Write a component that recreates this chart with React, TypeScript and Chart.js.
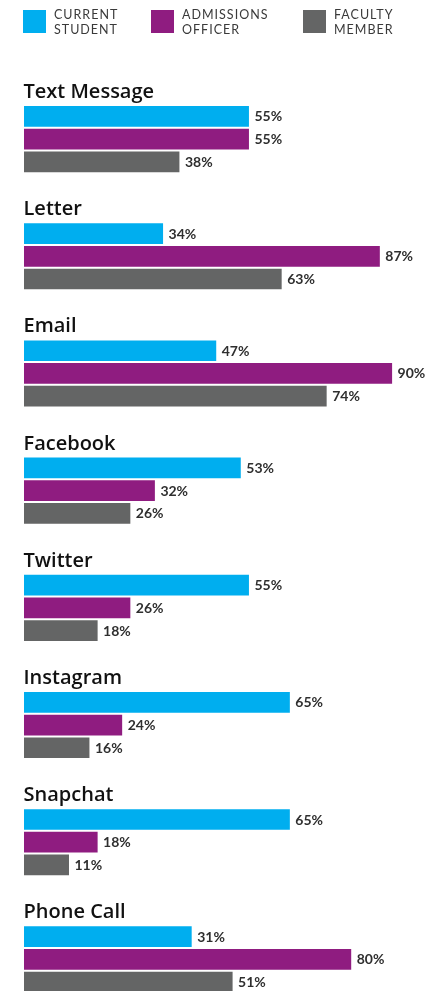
import React, { useEffect, useRef } from "react";
import { Chart, registerables } from "chart.js";

Chart.register(...registerables);

const categories = [
  "Text Message",
  "Letter",
  "Email",
  "Facebook",
  "Twitter",
  "Instagram",
  "Snapchat",
  "Phone Call",
];

// bar lengths as drawn in the picture (percent)
const studentValues = [55, 34, 47, 53, 55, 65, 65, 41];
const officerValues = [55, 87, 90, 32, 26, 24, 18, 80];
const facultyValues = [38, 63, 74, 26, 18, 16, 11, 51];

// value labels as printed in the picture
const studentLabels = ["55%", "34%", "47%", "53%", "55%", "65%", "65%", "31%"];
const officerLabels = ["55%", "87%", "90%", "32%", "26%", "24%", "18%", "80%"];
const facultyLabels = ["38%", "63%", "74%", "26%", "18%", "16%", "11%", "51%"];

const seriesNames = [
  ["CURRENT", "STUDENT"],
  ["ADMISSIONS", "OFFICER"],
  ["FACULTY", "MEMBER"],
];
const seriesColors = ["#00AEEF", "#8F1C80", "#646565"];

const valueLabels = [studentLabels, officerLabels, facultyLabels];

const W = 441;
const H = 1018;

const overlayPlugin = {
  id: "overlay",
  afterDatasetsDraw(chart: any) {
    const ctx = chart.ctx;
    const area = chart.chartArea;
    ctx.save();
    // group titles
    const meta0 = chart.getDatasetMeta(0);
    ctx.fillStyle = "#111111";
    ctx.font = "600 20px 'Open Sans'";
    ctx.textAlign = "left";
    ctx.textBaseline = "alphabetic";
    categories.forEach((c, i) => {
      const el = meta0.data[i];
      const top = el.y - el.height / 2;
      ctx.fillText(c, area.left - 0.5, top - 8);
    });
    // value labels
    ctx.fillStyle = "#2f2f2f";
    ctx.font = "700 14px Lato";
    ctx.textBaseline = "middle";
    chart.data.datasets.forEach((ds: any, d: number) => {
      const meta = chart.getDatasetMeta(d);
      meta.data.forEach((el: any, i: number) => {
        ctx.fillText(valueLabels[d][i], el.x + 5.5, el.y + 0.5);
      });
    });
    // legend
    const swX = [23, 151, 303];
    ctx.font = "400 12.5px Lato";
    (ctx as any).letterSpacing = "1px";
    ctx.textBaseline = "alphabetic";
    seriesNames.forEach((lines, k) => {
      ctx.fillStyle = seriesColors[k];
      ctx.fillRect(swX[k], 10, 23, 23);
      ctx.fillStyle = "#3a3a3a";
      ctx.fillText(lines[0], swX[k] + 31, 18.5);
      ctx.fillText(lines[1], swX[k] + 31, 34);
    });
    ctx.restore();
  },
};

export default function App() {
  const ref = useRef<HTMLCanvasElement | null>(null);
  useEffect(() => {
    if (!ref.current) return;
    const chart = new Chart(ref.current, {
      type: "bar",
      data: {
        labels: categories,
        datasets: [
          { label: seriesNames[0].join(" "), data: studentValues, backgroundColor: seriesColors[0] },
          { label: seriesNames[1].join(" "), data: officerValues, backgroundColor: seriesColors[1] },
          { label: seriesNames[2].join(" "), data: facultyValues, backgroundColor: seriesColors[2] },
        ],
      },
      options: {
        indexAxis: "y",
        responsive: false,
        animation: false,
        devicePixelRatio: 1,
        layout: { padding: { top: 80.5, left: 24, right: 8, bottom: 0 } },
        datasets: {
          bar: { categoryPercentage: 0.5814, barPercentage: 0.912, borderWidth: 0 },
        },
        plugins: { legend: { display: false }, tooltip: { enabled: false } },
        scales: {
          x: { display: false, min: 0, max: 100 },
          y: { display: false },
        },
      },
      plugins: [overlayPlugin],
    });
    return () => chart.destroy();
  }, []);
  return (
    <div
      style={{
        position: "absolute",
        top: 0,
        left: 0,
        width: W,
        height: 991,
        overflow: "hidden",
        background: "#ffffff",
      }}
    >
      <canvas ref={ref} width={W} height={H} style={{ width: W, height: H, display: "block" }} />
    </div>
  );
}
